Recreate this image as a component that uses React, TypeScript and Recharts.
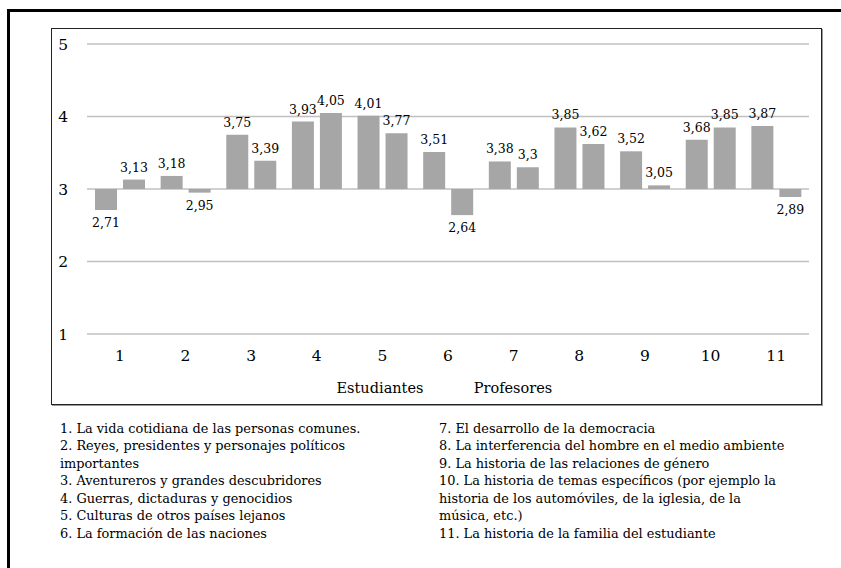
import { BarChart, Bar, XAxis, YAxis, CartesianGrid, LabelList } from 'recharts'

const categories = ['1', '2', '3', '4', '5', '6', '7', '8', '9', '10', '11']
const estudiantes = [2.71, 3.18, 3.75, 3.93, 4.01, 3.51, 3.38, 3.85, 3.52, 3.68, 3.87]
const profesores = [3.13, 2.95, 3.39, 4.05, 3.77, 2.64, 3.3, 3.62, 3.05, 3.85, 2.89]
const yTicks = [1, 2, 3, 4, 5]
const seriesNames = ['Estudiantes', 'Profesores']

const notesLeft = [
  ['1. La vida cotidiana de las personas comunes.'],
  ['2. Reyes, presidentes y personajes políticos', 'importantes'],
  ['3. Aventureros y grandes descubridores'],
  ['4. Guerras, dictaduras y genocidios'],
  ['5. Culturas de otros países lejanos'],
  ['6. La formación de las naciones'],
]
const notesRight = [
  ['7. El desarrollo de la democracia'],
  ['8. La interferencia del hombre en el medio ambiente'],
  ['9. La historia de las relaciones de género'],
  [
    '10. La historia de temas específicos (por ejemplo la',
    'historia de los automóviles, de la iglesia, de la',
    'música, etc.)',
  ],
  ['11. La historia de la familia del estudiante'],
]

// bars start from the middle of the scale
const BASE = 3

const data = categories.map((c, i) => ({
  name: c,
  est: estudiantes[i],
  prof: profesores[i],
}))

const serif = "'DejaVu Serif', 'Noto Serif', 'Liberation Serif', serif"

function ValueLabel(props: any) {
  const vb = props.viewBox ?? props
  const x = Number(vb.x)
  const y = Number(vb.y)
  const w = Number(vb.width)
  const h = Number(vb.height)
  const top = Math.min(y, y + h)
  const bottom = Math.max(y, y + h)
  const up = props.value >= BASE
  return (
    <text
      x={x + w / 2}
      y={up ? top - 8 : bottom + 17}
      textAnchor="middle"
      fontSize={12.5}
      style={{ fontFamily: serif }}
      fill="#000"
    >
      {String(props.value).replace('.', ',')}
    </text>
  )
}

function Notes({ items, left }: { items: string[][]; left: number }) {
  return (
    <div
      style={{
        position: 'absolute',
        left,
        top: 420,
        fontFamily: serif,
        fontSize: 12.9,
        lineHeight: '17.45px',
        whiteSpace: 'nowrap',
        color: '#000',
      }}
    >
      {items.map((lines, i) => (
        <div key={i}>
          {lines.map((l, j) => (
            <div key={j}>{l}</div>
          ))}
        </div>
      ))}
    </div>
  )
}

const legendText = {
  position: 'absolute' as const,
  top: 378,
  width: 120,
  textAlign: 'center' as const,
  lineHeight: '20px',
  fontSize: 14.5,
  color: '#000',
  whiteSpace: 'nowrap' as const,
}

export default function App() {
  return (
    <div
      style={{
        position: 'absolute',
        left: 0,
        top: 0,
        width: 841,
        height: 568,
        background: '#fff',
        fontFamily: serif,
      }}
    >
      <div
        style={{
          position: 'absolute',
          left: 7,
          top: 9,
          width: 834,
          height: 559,
          borderLeft: '3px solid #000',
          borderTop: '3px solid #000',
          boxSizing: 'border-box',
        }}
      />
      <div
        style={{
          position: 'absolute',
          left: 51,
          top: 28,
          width: 771,
          height: 377,
          border: '1px solid #222',
          boxShadow: '1px 1px 0 #999',
          boxSizing: 'border-box',
        }}
      />
      <div style={{ position: 'absolute', left: 0, top: 0 }}>
        <BarChart
          width={841}
          height={420}
          data={data}
          margin={{ top: 44, right: 32, bottom: 56, left: 37 }}
          barSize={22}
          barGap={6}
          style={{ fontFamily: serif }}
        >
          <CartesianGrid vertical={false} stroke="#c0c0c0" strokeWidth={1.5} />
          <XAxis
            dataKey="name"
            axisLine={false}
            tickLine={false}
            tickMargin={10}
            height={30}
            tick={{ fontSize: 15.5, fill: '#000', style: { fontFamily: serif } }}
          />
          <YAxis
            domain={[1, 5]}
            ticks={yTicks}
            axisLine={false}
            tickLine={false}
            width={50}
            tickMargin={13}
            tick={{ fontSize: 15.5, fill: '#000', style: { fontFamily: serif } }}
          />
          <Bar
            name={seriesNames[0]}
            dataKey={(d: any) => [Math.min(BASE, d.est), Math.max(BASE, d.est)]}
            fill="#a6a6a6"
            isAnimationActive={false}
          >
            <LabelList dataKey="est" content={ValueLabel} />
          </Bar>
          <Bar
            name={seriesNames[1]}
            dataKey={(d: any) => [Math.min(BASE, d.prof), Math.max(BASE, d.prof)]}
            fill="#a6a6a6"
            isAnimationActive={false}
          >
            <LabelList dataKey="prof" content={ValueLabel} />
          </Bar>
        </BarChart>
      </div>
      <div style={{ ...legendText, left: 380 - 60 }}>{seriesNames[0]}</div>
      <div style={{ ...legendText, left: 513 - 60 }}>{seriesNames[1]}</div>
      <Notes items={notesLeft} left={60} />
      <Notes items={notesRight} left={439} />
    </div>
  )
}
